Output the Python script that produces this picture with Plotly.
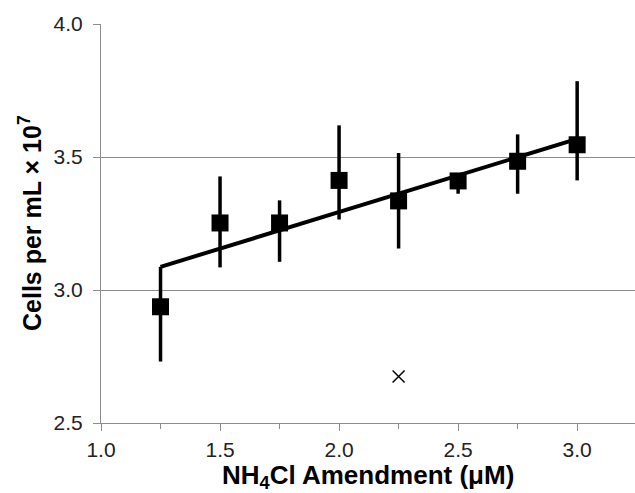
import plotly.graph_objects as go

# Data
amendment = [1.25, 1.5, 1.75, 2.0, 2.25, 2.5, 2.75, 3.0]
cells = [2.937, 3.252, 3.252, 3.412, 3.335, 3.410, 3.484, 3.546]
err_upper = [3.087, 3.427, 3.337, 3.619, 3.515, 3.430, 3.585, 3.785]
err_lower = [2.731, 3.085, 3.106, 3.265, 3.156, 3.362, 3.362, 3.412]

trend_x = [1.25, 3.0]
trend_y = [3.087, 3.568]

outlier_x = [2.25]
outlier_y = [2.675]

x_title = "<b>NH<sub>4</sub>Cl Amendment (μM)</b>"
y_title = "<b>Cells per mL × 10<sup>7</sup></b>"

plus = [u - c for u, c in zip(err_upper, cells)]
minus = [c - l for c, l in zip(cells, err_lower)]

FONT = "Liberation Sans, Arial, sans-serif"
GRID = "#8c8c8c"
W, H = 635, 493
ML, MR, MT, MB = 101, 0, 24, 70
PW, PH = W - ML - MR, H - MT - MB

fig = go.Figure()

fig.add_trace(go.Scatter(
    x=amendment, y=cells, mode="markers",
    marker=dict(symbol="square", size=17, color="black"),
    error_y=dict(type="data", symmetric=False, array=plus, arrayminus=minus,
                 color="black", thickness=3.5, width=0),
    showlegend=False,
))

fig.add_trace(go.Scatter(
    x=trend_x, y=trend_y, mode="lines",
    line=dict(color="black", width=4),
    showlegend=False,
))

fig.add_trace(go.Scatter(
    x=outlier_x, y=outlier_y, mode="markers",
    marker=dict(symbol="x-thin", size=12, color="black",
                line=dict(color="black", width=1.5)),
    showlegend=False,
))

fig.update_layout(
    width=W, height=H, autosize=False,
    margin=dict(l=ML, r=MR, t=MT, b=MB),
    paper_bgcolor="white", plot_bgcolor="white",
    font=dict(family=FONT, color="#222222", size=21),
    xaxis=dict(
        range=[1.0, 3.243], tickmode="linear", tick0=1.0, dtick=0.5,
        tickformat=".1f", showgrid=False, zeroline=False,
        showline=True, linecolor=GRID, linewidth=1.2,
        ticks="outside", ticklen=7, tickcolor=GRID, tickwidth=1.2,
        ticklabelstandoff=1,
        minor=dict(dtick=0.25, tick0=1.0, ticks="outside", ticklen=5,
                   tickcolor=GRID, tickwidth=1.2, showgrid=False),
        tickfont=dict(size=21, family=FONT, color="#222222"),
    ),
    yaxis=dict(
        range=[2.5, 4.0], tickmode="linear", tick0=2.5, dtick=0.5,
        tickformat=".1f", showgrid=True, gridcolor=GRID, gridwidth=1.2,
        zeroline=False, showline=True, linecolor=GRID, linewidth=1.2,
        ticks="outside", ticklen=7, tickcolor=GRID, tickwidth=1.2,
        ticklabelstandoff=6,
        tickfont=dict(size=21, family=FONT, color="#222222"),
    ),
    annotations=[
        dict(text=x_title, xref="paper", yref="paper",
             x=0.5, y=(MT + PH - 476) / PH,
             xanchor="center", yanchor="middle", showarrow=False,
             font=dict(size=26, family=FONT, color="black")),
        dict(text=y_title, xref="paper", yref="paper",
             x=(30 - ML) / PW, y=(MT + PH - 223) / PH, textangle=-90,
             xanchor="center", yanchor="middle", showarrow=False,
             font=dict(size=25, family=FONT, color="black")),
    ],
)

fig.write_html("out.html", config={"displayModeBar": False},
               post_script="document.body.style.margin='0';")
